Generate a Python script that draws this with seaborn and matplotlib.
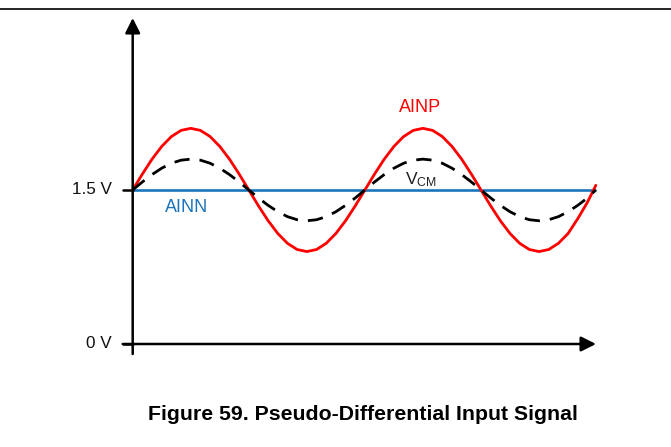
import matplotlib
matplotlib.use("Agg")
import matplotlib.pyplot as plt
from matplotlib.lines import Line2D
import seaborn as sns
import pandas as pd

# ---- data ----
phase_deg = [0, 15, 30, 45, 60, 75, 90, 105, 120, 135, 150, 165, 180,
             195, 210, 225, 240, 255, 270, 285, 300, 315, 330, 345, 360,
             375, 390, 405, 420, 435, 450, 465, 480, 495, 510, 525, 540,
             555, 570, 585, 600, 615, 630, 645, 660, 675, 690, 705, 718]
ainp_v = [1.500, 1.655, 1.800, 1.924, 2.020, 2.080, 2.100, 2.080, 2.020, 1.924, 1.800, 1.655, 1.500,
          1.345, 1.200, 1.076, 0.980, 0.920, 0.900, 0.920, 0.980, 1.076, 1.200, 1.345, 1.500,
          1.655, 1.800, 1.924, 2.020, 2.080, 2.100, 2.080, 2.020, 1.924, 1.800, 1.655, 1.500,
          1.345, 1.200, 1.076, 0.980, 0.920, 0.900, 0.920, 0.980, 1.076, 1.220, 1.380, 1.545]
vcm_v = [1.500, 1.578, 1.650, 1.712, 1.760, 1.790, 1.800, 1.790, 1.760, 1.712, 1.650, 1.578, 1.500,
         1.422, 1.350, 1.288, 1.240, 1.210, 1.200, 1.210, 1.240, 1.288, 1.350, 1.422, 1.500,
         1.578, 1.650, 1.712, 1.760, 1.790, 1.800, 1.790, 1.760, 1.712, 1.650, 1.578, 1.500,
         1.422, 1.350, 1.288, 1.240, 1.210, 1.200, 1.210, 1.240, 1.288, 1.350, 1.422, 1.500]
ainn_phase = [0, 717]
ainn_v = [1.5, 1.5]
ytick_values = [0.0, 1.5]
ytick_labels = ["0 V", "1.5 V"]
title = "Figure 59. Pseudo-Differential Input Signal"

RED = "#FF0000"
BLUE = "#1B75BC"

sns.set_theme(style="white")
plt.rcParams["font.family"] = ["Liberation Sans", "DejaVu Sans"]
plt.rcParams["mathtext.fontset"] = "custom"
plt.rcParams["mathtext.rm"] = "Liberation Sans"
plt.rcParams["mathtext.it"] = "Liberation Sans"

W, H = 671, 447
fig = plt.figure(figsize=(W / 100, H / 100), dpi=100)
ax = fig.add_axes([0, 0, 1, 1])

# pixel -> data helpers (for decorations only)
PX_PER_DEG = 0.645
PX_PER_V = 102.7
X0_PX, Y0_PX = 132.7, 344.0
def X(px):
    return phase_deg[0] + (px - X0_PX) / PX_PER_DEG
def Y(py):
    return (Y0_PX - py) / PX_PER_V

df_p = pd.DataFrame({"phase": phase_deg, "v": ainp_v})
df_c = pd.DataFrame({"phase": phase_deg, "v": vcm_v})
df_n = pd.DataFrame({"phase": ainn_phase, "v": ainn_v})

sns.lineplot(data=df_n, x="phase", y="v", ax=ax, color=BLUE, lw=1.9,
             sort=False, estimator=None, zorder=2)
sns.lineplot(data=df_p, x="phase", y="v", ax=ax, color=RED, lw=2.0,
             sort=False, estimator=None, zorder=3)
sns.lineplot(data=df_c, x="phase", y="v", ax=ax, color="black", lw=2.0,
             sort=False, estimator=None, zorder=4)
ax.lines[-1].set_dashes((5.5, 3.6))
ax.lines[-1].set_dash_capstyle("butt")
ax.set_xlim(X(0), X(W))
ax.set_ylim(Y(H), Y(0))
ax.set_axis_off()

# axes with arrows
arrow = dict(arrowstyle="-|>,head_length=9,head_width=4.5", lw=1.8,
             color="black", shrinkA=0, shrinkB=0, mutation_scale=1)
ax.annotate("", xy=(X(132.7), Y(18)), xytext=(X(132.7), Y(354)), arrowprops=arrow)
ax.annotate("", xy=(X(596), Y(344)), xytext=(X(122.7), Y(344)), arrowprops=arrow)

# ticks and tick labels
for v, lab in zip(ytick_values, ytick_labels):
    ax.plot([X(122.7), X(132.7)], [v, v], color="black", lw=1.8)
    ax.text(X(112), v, lab, ha="right", va="center", fontsize=12.3, color="#111111")

# series labels
ax.text(X(420), Y(107), "AINP", ha="center", va="center", fontsize=13, color=RED)
ax.text(X(186.5), Y(208), "AINN", ha="center", va="center", fontsize=13, color=BLUE)
ax.text(X(405), Y(184), r"$\mathrm{V_{CM}}$", ha="left", va="baseline",
        fontsize=12.6, color="#222222")

# top rule and caption
fig.add_artist(Line2D([0, 1], [1 - 9 / H, 1 - 9 / H], color="black", lw=1.2))
fig.text(363 / W, 1 - 414 / H, title, ha="center", va="center",
         fontsize=15.3, fontweight="bold", color="black")

fig.savefig("out.png", dpi=100)
